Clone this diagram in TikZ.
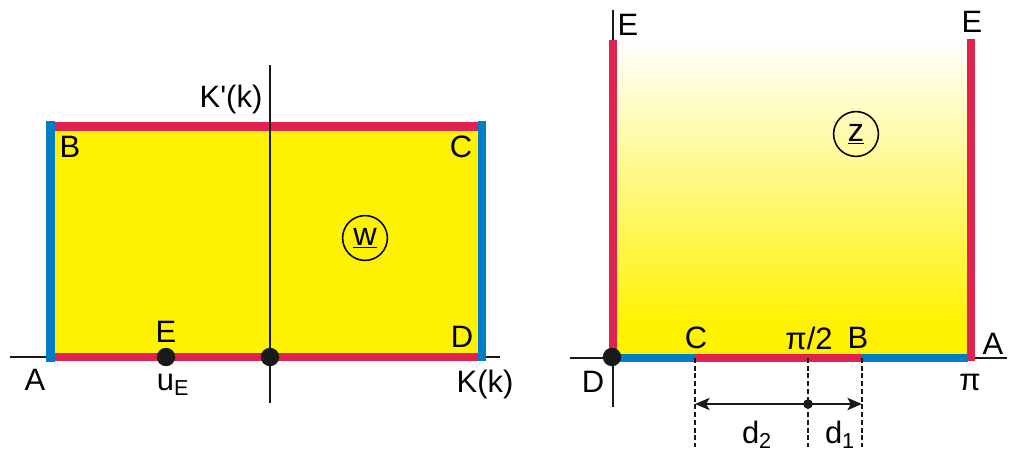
\documentclass[tikz,border=0pt]{standalone}
\usepackage{fontspec}
\setmainfont{Liberation Sans}[Ligatures=TeXOff]
\usetikzlibrary{arrows.meta}

\definecolor{mapyellow}{RGB}{255,242,0}
\definecolor{mapred}{RGB}{222,35,78}
\definecolor{mapblue}{RGB}{0,125,197}

\tikzset{
  edgered/.style={mapred, line width=0.2cm},
  edgeblue/.style={mapblue, line width=0.2cm},
  axisline/.style={black!90, line width=1.3pt},
  dot/.style={circle, fill=black!90, inner sep=0pt, minimum size=0.46cm},
  smalldot/.style={circle, fill=black!90, inner sep=0pt, minimum size=0.24cm},
  lab/.style={font=\fontsize{22}{26}\selectfont, inner sep=0pt},
  plane/.style={circle, draw, line width=1.1pt, minimum size=1.12cm, inner sep=0pt,
    font=\fontsize{23}{26}\selectfont},
  guide/.style={black!90, line width=1.3pt, dash pattern=on 3.5pt off 2pt},
  dimline/.style={black!90, line width=2pt,
    {Stealth[length=3.6mm, width=3mm, inset=0.8mm]}-{Stealth[length=3.6mm, width=3mm, inset=0.8mm]}},
}

\begin{document}
\begin{tikzpicture}[x=0.025cm, y=-0.025cm]
  \useasboundingbox (0,0) rectangle (1012,453);

  % ---- w plane (left) ----
  \fill[mapyellow] (50,126) rectangle (481,357);
  \draw[axisline] (10,357) -- (500,357);
  \draw[edgered] (52,126.5) -- (481,126.5);
  \draw[edgered] (52,357) -- (481,357);
  \draw[edgeblue] (50.5,121) -- (50.5,362);
  \draw[edgeblue] (481.5,121) -- (481.5,361);
  \draw[axisline] (270,65) -- (270,403);
  \node[dot] (wE) at (166,357) {};
  \node[dot] (wO) at (270,357) {};

  % corner and axis labels
  \node[lab] (wB) at (70,147) {B};
  \node[lab] (wC) at (461,147) {C};
  \node[lab] (wD) at (462,337) {D};
  \node[lab] (wElab) at (166,332) {E};
  \node[lab] (wA) at (35,380) {A};
  \node[lab] (wuE) at (173,385) {u\textsubscript{E}};
  \node[lab] (wKk) at (485,384) {K(k)};
  \node[lab] (wKp) at (231,99) {K'(k)};
  \node[plane] (wname) at (365,238) {\underline{w}};

  % ---- z plane (right) ----
  \shade[top color=white, bottom color=mapyellow] (616,40) rectangle (968,328);
  \fill[mapyellow] (616,327) rectangle (968,355);
  \draw[axisline] (570,358) -- (1007,358);
  \draw[axisline] (613,10) -- (613,407);
  \draw[edgered] (613,40) -- (613,358);
  \draw[edgeblue] (613,358) -- (695,358);
  \draw[edgered] (695,358) -- (862,358);
  \draw[edgeblue] (862,358) -- (968,358);
  \draw[edgered] (971,39) -- (971,361);
  \node[dot] (zD) at (612,357) {};

  % dashed guides down to the dimension line
  \foreach \xx/\nm in {695/C, 808/M, 862/B} {
    \coordinate (gtop\nm) at (\xx,358);
    \coordinate (gbot\nm) at (\xx,447);
    \draw[guide] (gtop\nm) -- (gbot\nm);
  }
  \coordinate (dimC) at (695,404);
  \coordinate (dimB) at (862,404);
  \draw[dimline] (dimC) -- (dimB);
  \node[smalldot] (dimM) at (808,404) {};

  \node[lab] (zC) at (696,338) {C};
  \node[lab] (zM) at (809,338) {π/2};
  \node[lab] (zB) at (858,338) {B};
  \node[lab] (zA) at (993,344) {A};
  \node[lab] (zDlab) at (593,382) {D};
  \node[lab] (zpi) at (970,382) {π};
  \node[lab] (zd2) at (757,435) {d\textsubscript{2}};
  \node[lab] (zd1) at (840,435) {d\textsubscript{1}};
  \node[lab] (zE1) at (628,25) {E};
  \node[lab] (zE2) at (972,22) {E};
  \node[plane] (zname) at (856,134) {\underline{z}};
\end{tikzpicture}
\end{document}
